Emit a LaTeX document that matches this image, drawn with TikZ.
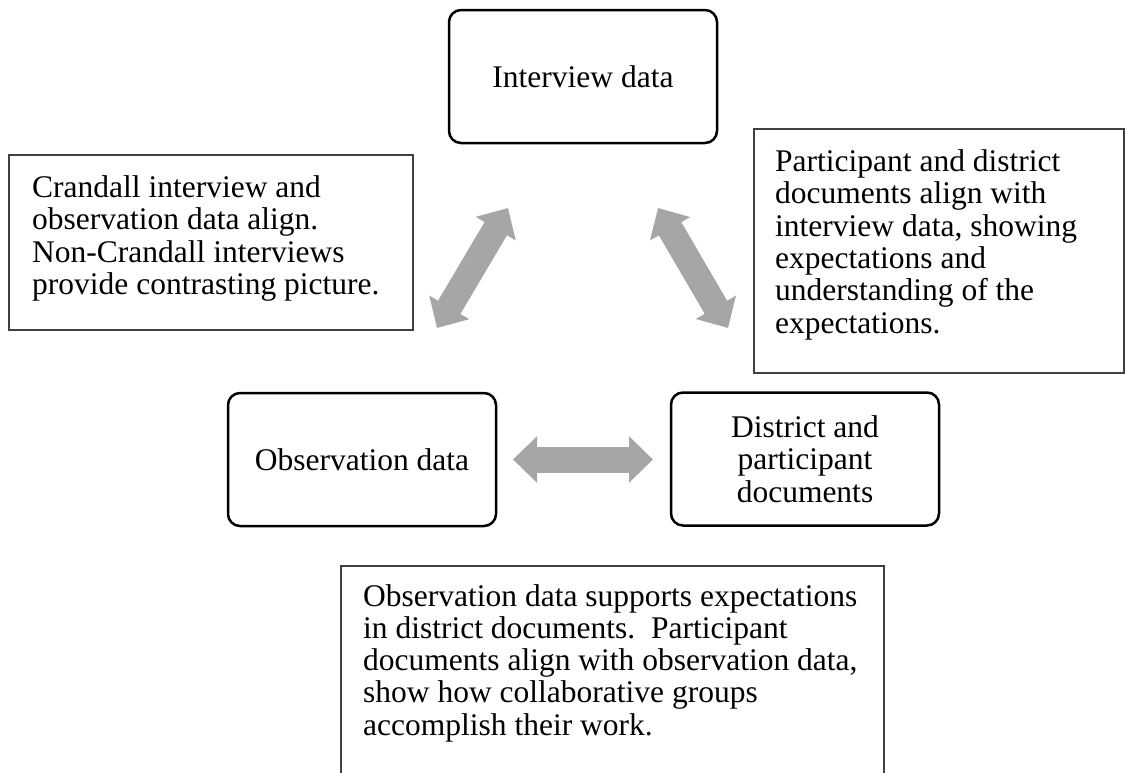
\documentclass[tikz,border=0pt]{standalone}
\usepackage{fontspec}
\setmainfont{Liberation Serif}
\usetikzlibrary{arrows.meta}

\definecolor{arrowgray}{RGB}{166,166,166}
\definecolor{framegray}{RGB}{64,64,64}

\tikzset{
  databox/.style={draw=black, line width=2.5pt, rounded corners=12pt,
    minimum width=268pt, minimum height=133pt, align=center, inner sep=0pt},
  notebox/.style={draw=framegray, line width=1.5pt, inner sep=0pt, anchor=north west},
  notetext/.style={anchor=north west, align=left, inner sep=0pt},
  twoway/.style={arrowgray, line width=26pt,
    {Triangle[length=24pt,width=45pt]}-{Triangle[length=24pt,width=45pt]}}
}

\begin{document}
\begin{tikzpicture}[x=1pt, y=-1pt, font=\fontsize{31.5}{32.3}\selectfont]
\useasboundingbox (0,0) rectangle (1125,772);
\clip (0,0) rectangle (1125,772);

% the three data sources
\node[databox] (interview) at (583,76.5) {Interview data};
\node[databox] (observation) at (362,459.5) {Observation data};
\node[databox] (documents) at (805,459) {District and\\participant\\documents};

% two-way arrows between them
\coordinate (io1) at (437,328);
\coordinate (io2) at (508,208);
\coordinate (id1) at (658,208);
\coordinate (id2) at (728,328);
\coordinate (od1) at (513,459.5);
\coordinate (od2) at (653,459.5);

\draw[twoway] (io1) -- (io2);
\draw[twoway] (id1) -- (id2);
\draw[twoway] (od1) -- (od2);

% notes
\node[notebox, minimum width=404pt, minimum height=175pt] (crandall) at (8,154) {};
\node[notetext] (crandall text) at ([xshift=24pt, yshift=-21.5pt]crandall.north west)
  {Crandall interview and\\observation data align.\\Non-Crandall interviews\\provide contrasting picture.};

\node[notebox, minimum width=370pt, minimum height=244pt] (alignment) at (753,128) {};
\node[notetext] (alignment text) at ([xshift=22pt, yshift=-21.5pt]alignment.north west)
  {Participant and district\\documents align with\\interview data, showing\\expectations and\\understanding of the\\expectations.};

\node[notebox, minimum width=543pt, minimum height=260pt] (support) at (340,565) {};
\node[notetext] (support text) at ([xshift=23pt, yshift=-19pt]support.north west)
  {Observation data supports expectations\\in district documents.\ \ Participant\\documents align with observation data,\\show how collaborative groups\\accomplish their work.};

\end{tikzpicture}
\end{document}
